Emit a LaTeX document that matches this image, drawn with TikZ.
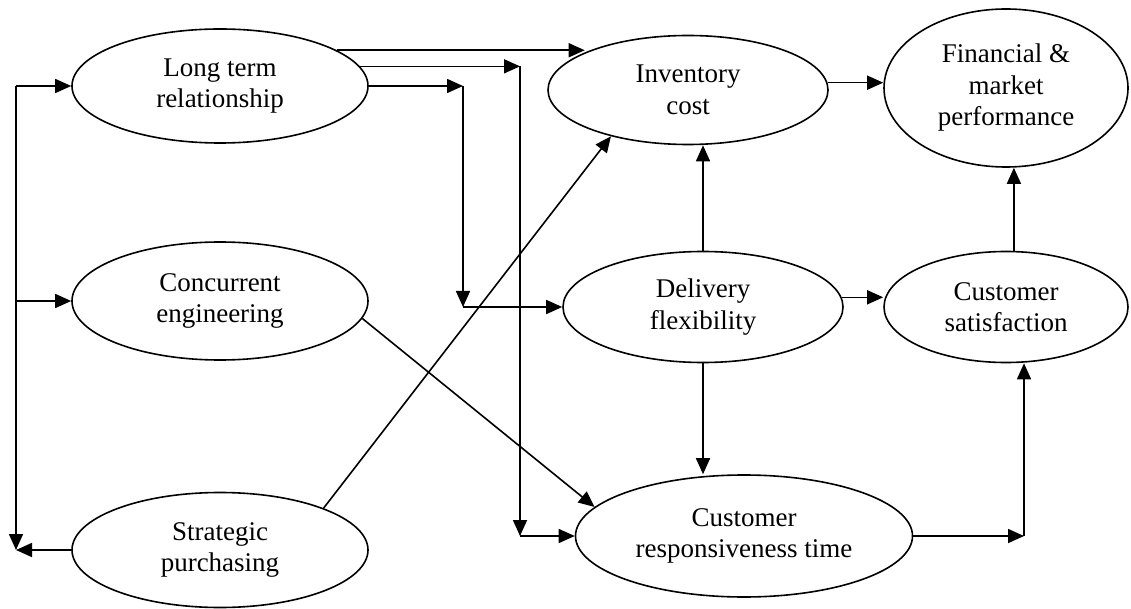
\documentclass[tikz,border=0pt]{standalone}
\usepackage{fontspec}
\setmainfont{Liberation Serif}
\usetikzlibrary{shapes.geometric,arrows.meta}
\begin{document}
\begin{tikzpicture}[x=1pt,y=-1pt,
  oval/.style={draw, ellipse, line width=1.6pt, inner sep=0pt, align=center,
    font=\fontsize{27}{31.5}\selectfont},
  arr/.style={line width=1.6pt, -{Triangle[length=16pt,width=14pt]}}]
\useasboundingbox (0,0) rectangle (1131,609);
% nodes
\node[oval, minimum width=296pt, minimum height=114pt] (lt) at (220,86) {Long term\\relationship};
\node[oval, minimum width=296pt, minimum height=118pt] (ce) at (220,301) {Concurrent\\engineering};
\node[oval, minimum width=296pt, minimum height=115pt] (sp) at (220,550) {Strategic\\purchasing};
\node[oval, minimum width=280pt, minimum height=109pt] (ic) at (688,90) {Inventory\\cost};
\node[oval, minimum width=244pt, minimum height=158pt] (fm) at (1006,88) {Financial \&\\market\\performance};
\node[oval, minimum width=280pt, minimum height=111pt] (df) at (703,307) {Delivery\\flexibility};
\node[oval, minimum width=244pt, minimum height=111pt] (cs) at (1006,307) {Customer\\satisfaction};
\node[oval, minimum width=337pt, minimum height=122pt] (cr) at (744,536) {Customer\\responsiveness time};
% helper coordinates for elbow connectors
\coordinate (Lx) at (16,0);
\coordinate (Bx) at (520,0);
\coordinate (Cx) at (463,0);
\coordinate (Rx) at (1024,0);
% left feedback structure
\draw[arr] (sp.west) -- (sp.west -| Lx);
\draw[arr] (Lx |- lt.west) -- (Lx |- sp.west);
\draw[arr] (Lx |- lt.west) -- (lt.west);
\draw[arr] (Lx |- ce.west) -- (ce.west);
% long term relationship outputs
\draw[arr] (lt.17) -- (lt.17 -| ic.160);
\draw[arr] (lt.8) -- (lt.8 -| Bx);
\draw[arr] (lt.8 -| Bx) -- (Bx |- cr.west);
\draw[arr] (Bx |- cr.west) -- (cr.west);
\draw[arr] (lt.east) -- (lt.east -| Cx);
\draw[arr] (lt.east -| Cx) -- (Cx |- df.west);
\draw[arr] (Cx |- df.west) -- (df.west);
% diagonals
\draw[arr] (sp.22) -- (ic.211);
\draw[arr] (ce.-7) -- (cr.169);
% right side
\draw[arr] (ic.3) -- (ic.3 -| fm.west);
\draw[arr] (df.north) -- (df.north |- ic.south);
\draw[arr] (df.south) -- (df.south |- cr.north);
\draw[arr] (df.4) -- (df.4 -| cs.west);
\draw[arr] (cs.82) -- (cs.82 |- fm.south);
\draw[arr] (cr.east) -- (cr.east -| Rx);
\draw[arr] (cr.east -| Rx) -- (Rx |- cs.south);
\end{tikzpicture}
\end{document}
